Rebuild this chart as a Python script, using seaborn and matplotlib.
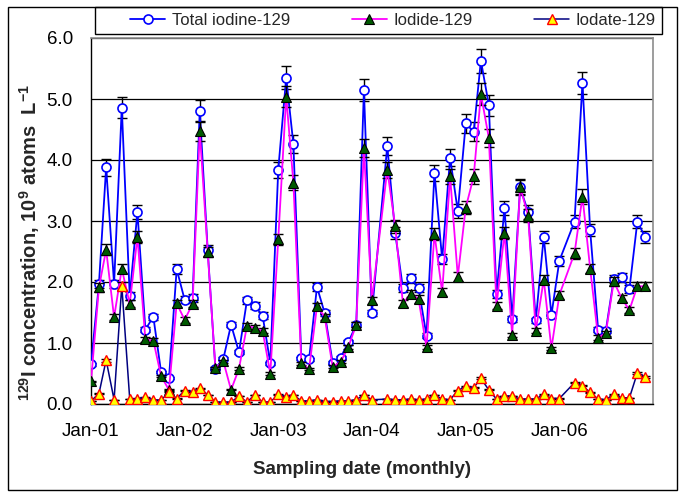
import numpy as np
import pandas as pd
import matplotlib
matplotlib.use("Agg")
import matplotlib.pyplot as plt
import matplotlib.dates as mdates
from matplotlib.patches import Rectangle
from matplotlib.lines import Line2D
import seaborn as sns

# ---------------- data ----------------
months = [
    "2001-01", "2001-02", "2001-03", "2001-04", "2001-05", "2001-06",
    "2001-07", "2001-08", "2001-09", "2001-10", "2001-11", "2001-12",
    "2002-01", "2002-02", "2002-03", "2002-04", "2002-05", "2002-06",
    "2002-07", "2002-08", "2002-09", "2002-10", "2002-11", "2002-12",
    "2003-01", "2003-02", "2003-03", "2003-04", "2003-05", "2003-06",
    "2003-07", "2003-08", "2003-09", "2003-10", "2003-11", "2003-12",
    "2004-01", "2004-03", "2004-04", "2004-05", "2004-06",
    "2004-07", "2004-08", "2004-09", "2004-10", "2004-11", "2004-12",
    "2005-01", "2005-02", "2005-03", "2005-04", "2005-05", "2005-06",
    "2005-07", "2005-08", "2005-09", "2005-10", "2005-11", "2005-12",
    "2006-01", "2006-03", "2006-04", "2006-05", "2006-06",
    "2006-07", "2006-08", "2006-09", "2006-10", "2006-11", "2006-12",
]
total_i129 = [
    0.65, 1.97, 3.88, 1.97, 4.86, 1.77, 3.15, 1.22, 1.43, 0.53, 0.42, 2.21,
    1.71, 1.74, 4.81, 2.52, 0.58, 0.74, 1.30, 0.85, 1.70, 1.61, 1.45, 0.67,
    3.84, 5.35, 4.26, 0.75, 0.73, 1.92, 1.49, 0.68, 0.76, 1.01, 1.30, 5.15,
    1.49, 4.23, 2.80, 1.90, 2.06, 1.90, 1.12, 3.79, 2.37, 4.04, 3.16,
    4.60, 4.46, 5.63, 4.90, 1.80, 3.21, 1.39, 3.55, 3.15, 1.37, 2.74, 1.46,
    2.35, 2.99, 5.26, 2.85, 1.22, 1.20, 2.05, 2.08, 1.88, 2.99, 2.74,
]
iodide_i129 = [
    0.37, 1.91, 2.53, 1.42, 2.22, 1.64, 2.74, 1.06, 1.04, 0.46, 0.23, 1.65,
    1.38, 1.64, 4.47, 2.49, 0.59, 0.70, 0.23, 0.58, 1.28, 1.25, 1.20, 0.50,
    2.70, 5.04, 3.63, 0.67, 0.57, 1.60, 1.43, 0.61, 0.69, 0.93, 1.30, 4.19,
    1.70, 3.84, 2.91, 1.65, 1.81, 1.72, 0.93, 2.79, 1.83, 3.73, 2.09,
    3.22, 3.73, 5.08, 4.36, 1.61, 2.81, 1.13, 3.56, 3.09, 1.20, 2.04, 0.91,
    1.79, 2.47, 3.40, 2.22, 1.09, 1.16, 2.01, 1.73, 1.54, 1.93, 1.93,
]
iodate_i129 = [
    0.05, 0.17, 0.72, 0.07, 1.94, 0.08, 0.09, 0.11, 0.07, 0.06, 0.20, 0.09,
    0.22, 0.20, 0.26, 0.15, 0.03, 0.03, 0.03, 0.13, 0.03, 0.15, 0.03, 0.03,
    0.16, 0.12, 0.15, 0.05, 0.05, 0.07, 0.04, 0.04, 0.05, 0.05, 0.07, 0.15,
    0.07, 0.08, 0.07, 0.07, 0.08, 0.07, 0.08, 0.15, 0.08, 0.07, 0.22,
    0.29, 0.27, 0.42, 0.23, 0.08, 0.13, 0.13, 0.08, 0.08, 0.08, 0.16, 0.09,
    0.09, 0.35, 0.30, 0.19, 0.08, 0.07, 0.16, 0.10, 0.10, 0.51, 0.45,
]
rel_uncertainty = 0.035          # estimated analytical uncertainty (fraction)
series_labels = ["Total iodine-129", "Iodide-129", "Iodate-129"]
year_ticks = ["2001-01-01", "2002-01-01", "2003-01-01",
              "2004-01-01", "2005-01-01", "2006-01-01"]
y_ticks = [0.0, 1.0, 2.0, 3.0, 4.0, 5.0, 6.0]

# ---------------- style ----------------
sns.set_theme(style="white")
plt.rcParams["font.family"] = ["Liberation Sans", "DejaVu Sans"]
plt.rcParams["mathtext.fontset"] = "custom"
plt.rcParams["mathtext.rm"] = "Liberation Sans"
plt.rcParams["mathtext.bf"] = "Liberation Sans:bold"
plt.rcParams["mathtext.it"] = "Liberation Sans:italic"

df = pd.DataFrame({
    "date": pd.to_datetime(months),
    "total": total_i129,
    "iodide": iodide_i129,
    "iodate": iodate_i129,
})

W, H = 682, 492
fig = plt.figure(figsize=(W / 100, H / 100), dpi=100)
ax = fig.add_axes([91 / W, 88 / H, 562 / W, 366 / H])

specs = [
    ("total", series_labels[0], dict(color="#0000FF", lw=1.3, marker="o", markersize=6.5,
                                      markerfacecolor="white", markeredgecolor="#0000FF",
                                      markeredgewidth=1.2)),
    ("iodide", series_labels[1], dict(color="#FF00FF", lw=1.3, marker="^", markersize=7.5,
                                       markerfacecolor="#005A00", markeredgecolor="black",
                                       markeredgewidth=0.8)),
    ("iodate", series_labels[2], dict(color="#000080", lw=1.1, marker="^", markersize=7.5,
                                       markerfacecolor="#FFFF00", markeredgecolor="#FF0000",
                                       markeredgewidth=1.0)),
]

z = 3
handles = []
for col, lab, st in specs:
    ax.errorbar(df["date"], df[col], yerr=df[col] * rel_uncertainty, fmt="none",
                ecolor="black", elinewidth=1.0, capsize=3.8, capthick=1.0, zorder=z - 0.5)
    sns.lineplot(data=df, x="date", y=col, ax=ax, legend=False, zorder=z, **st)
    handles.append(Line2D([], [], **st))
    z += 1

# axes
ax.set_xlim(pd.Timestamp("2001-01-01"), pd.Timestamp("2007-01-01"))
ax.set_ylim(0, 6)
ax.set_yticks(y_ticks)
ax.yaxis.set_major_formatter(matplotlib.ticker.FormatStrFormatter("%.1f"))
ax.set_xticks(pd.to_datetime(year_ticks))
ax.xaxis.set_major_formatter(mdates.DateFormatter("%b-%y"))
ax.tick_params(axis="both", which="major", direction="out", length=5, width=1,
               color="black", labelsize=13.5, labelcolor="black")
ax.tick_params(axis="y", pad=8)
ax.tick_params(axis="x", pad=9)
ax.yaxis.grid(True, color="black", lw=0.9)
ax.xaxis.grid(False)
ax.set_axisbelow(True)
for s in ["left", "bottom"]:
    ax.spines[s].set_color("black")
    ax.spines[s].set_linewidth(1.0)
for s in ["top", "right"]:
    ax.spines[s].set_color("#8C8C8C")
    ax.spines[s].set_linewidth(1.2)

ax.set_xlabel("Sampling date (monthly)", fontsize=13.5, fontweight="bold")
ax.xaxis.set_label_coords(0.482, -0.155)
ax.set_ylabel(r"$^{\mathbf{129}}$I concentration, 10$^{\mathbf{9}}$ atoms  L$^{\mathbf{-1}}$",
              fontsize=14.5, fontweight="bold")
ax.yaxis.set_label_coords(-0.088, 0.44)

# legend box and legend
fig.patches.append(Rectangle((95 / W, 1 - 34 / H), 567 / W, 27 / H, transform=fig.transFigure,
                             fill=False, edgecolor="black", lw=1.0))
fig.legend(handles, series_labels, loc="center left",
           bbox_to_anchor=(130 / W, 1 - 20.5 / H), ncol=3, frameon=False,
           fontsize=12, handlelength=2.1, handletextpad=0.4, columnspacing=3.7,
           borderpad=0, borderaxespad=0)

# outer frame
fig.patches.append(Rectangle((8 / W, 2 / H), 669 / W, 483 / H, transform=fig.transFigure,
                             fill=False, edgecolor="black", lw=1.0))

fig.savefig("out.png", dpi=100, facecolor="white")
